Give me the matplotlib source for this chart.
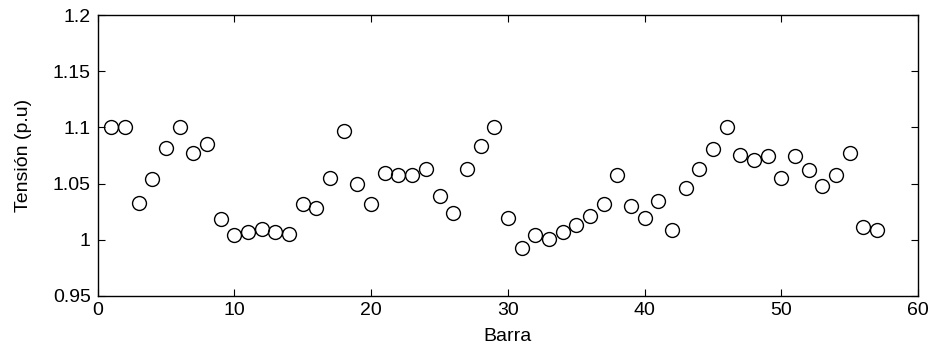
import numpy as np
import matplotlib
matplotlib.use("Agg")
import matplotlib.pyplot as plt

plt.rcParams['font.family'] = ['Liberation Sans', 'DejaVu Sans']

barra = np.arange(1, 58)
tension = [1.100, 1.100, 1.033, 1.054, 1.082, 1.100, 1.0775, 1.085, 1.0185, 1.004,
           1.007, 1.010, 1.007, 1.005, 1.0317, 1.0286, 1.055, 1.097, 1.050, 1.032,
           1.0598, 1.058, 1.058, 1.063, 1.0385, 1.024, 1.063, 1.083, 1.100, 1.019,
           0.993, 1.004, 1.001, 1.007, 1.0135, 1.0215, 1.0317, 1.058, 1.030, 1.019,
           1.0348, 1.0085, 1.0458, 1.063, 1.0805, 1.100, 1.0757, 1.071, 1.0745, 1.055,
           1.0745, 1.0617, 1.0476, 1.058, 1.0775, 1.0115, 1.0085]

fig = plt.figure(figsize=(9.31, 3.49), dpi=100)
ax = fig.add_axes([0.105, 0.152, 0.881, 0.805])
ax.plot(barra, tension, 'o', mfc='none', mec='black', ms=10, mew=1.0)

ax.set_xlim(0, 60)
ax.set_ylim(0.95, 1.2)
ax.set_xticks(range(0, 61, 10))
ax.set_yticks([0.95, 1, 1.05, 1.1, 1.15, 1.2])
ax.set_yticklabels(['0.95', '1', '1.05', '1.1', '1.15', '1.2'])
ax.tick_params(direction='in', top=True, right=True, labelsize=14, length=5)
ax.tick_params(axis='y', pad=5)
ax.tick_params(axis='x', pad=4)
ax.set_xlabel('Barra', fontsize=14, labelpad=7)
ax.set_ylabel('Tensión (p.u)', fontsize=14, labelpad=15)
for s in ax.spines.values():
    s.set_linewidth(1.0)

fig.savefig('out.png', dpi=100)
